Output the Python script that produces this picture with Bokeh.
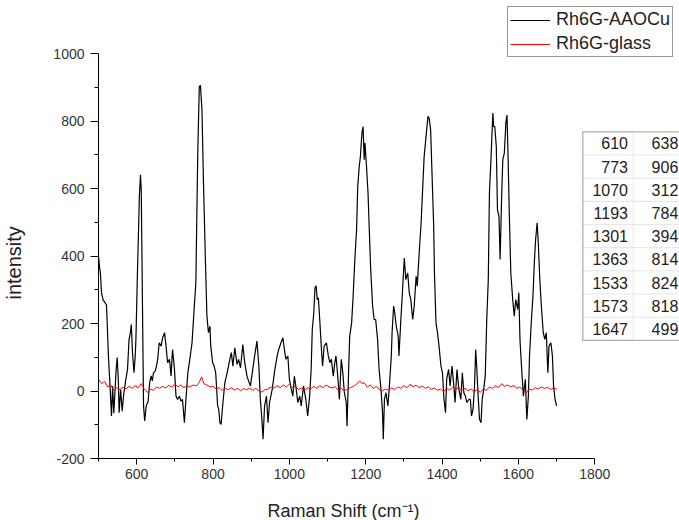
from bokeh.plotting import figure
from bokeh.models import (ColumnDataSource, FixedTicker, Legend, LegendItem,
                          BoxAnnotation, LabelSet, Range1d, Title)
from bokeh.core.properties import value
from bokeh.embed import file_html
from bokeh.resources import INLINE

# ---------------- data ----------------
raman_shift = [
    500, 503, 505, 508, 512, 517, 521, 526, 530, 534, 537, 540, 543, 546, 549, 552, 554, 558, 562, 566,
    571, 576, 580, 583, 586, 589, 593, 596, 598, 602, 605, 607, 610, 612, 615, 618, 621, 625, 630, 634,
    638, 641, 644, 649, 652, 655, 659, 664, 668, 673, 677, 681, 686, 690, 694, 699, 703, 707, 712, 716,
    720, 725, 729, 734, 738, 745, 751, 755, 760, 764, 767, 771, 775, 780, 784, 788, 792, 794, 799, 803,
    807, 812, 815, 818, 821, 826, 831, 837, 844, 848, 852, 857, 863, 867, 872, 878, 883, 889, 893, 898,
    904, 909, 915, 920, 924, 928, 931, 935, 940, 944, 948, 955, 962, 968, 972, 978, 983, 987, 991, 996,
    1000, 1005, 1009, 1013, 1018, 1022, 1027, 1031, 1037, 1043, 1048, 1053, 1057, 1060, 1064, 1067, 1070, 1073, 1076, 1080,
    1084, 1087, 1091, 1097, 1102, 1106, 1110, 1115, 1119, 1122, 1126, 1131, 1136, 1140, 1144, 1149, 1151, 1155, 1158, 1163,
    1167, 1171, 1176, 1179, 1183, 1186, 1190, 1193, 1196, 1198, 1202, 1206, 1209, 1213, 1218, 1222, 1226, 1231, 1235, 1240,
    1244, 1246, 1249, 1253, 1258, 1262, 1267, 1269, 1273, 1276, 1280, 1285, 1287, 1292, 1296, 1301, 1305, 1310, 1314, 1318,
    1323, 1327, 1332, 1335, 1340, 1345, 1349, 1353, 1358, 1363, 1366, 1370, 1373, 1378, 1380, 1384, 1388, 1392, 1397, 1401,
    1405, 1409, 1412, 1417, 1421, 1426, 1430, 1434, 1439, 1444, 1449, 1453, 1457, 1461, 1465, 1470, 1474, 1477, 1481, 1485,
    1488, 1491, 1495, 1498, 1502, 1505, 1509, 1513, 1517, 1521, 1524, 1528, 1533, 1535, 1538, 1542, 1545, 1549, 1552, 1556,
    1559, 1563, 1567, 1570, 1573, 1576, 1580, 1585, 1589, 1593, 1598, 1601, 1604, 1609, 1613, 1618, 1622, 1626, 1629, 1634,
    1638, 1642, 1645, 1649, 1652, 1656, 1660, 1665, 1669, 1673, 1677, 1680, 1685, 1689, 1692, 1696, 1700,
]
aaocu_intensity = [
    400, 365, 350, 290, 270, 262, 255, 104, 20, -74, 15, -66, -5, 60, 99, 30, -64, 5, -60, -10,
    30, 64, 153, 170, 197, 114, 54, 100, 153, 351, 480, 577, 641, 597, 271, -44, -89, -44, -30, 25,
    45, 30, 54, 60, 75, 94, 143, 133, 158, 173, 133, 84, 94, 45, 123, 64, -15, -25, -15, -30,
    -25, -94, -25, 54, 84, 143, 252, 321, 705, 902, 906, 834, 617, 390, 222, 173, 192, 133, 84, 74,
    54, -44, -54, -94, -99, -34, 25, 54, 94, 114, 74, 128, 79, 94, 69, 138, 84, 44, 30, 15,
    64, 104, 148, 74, -25, -84, -143, -44, -15, -94, -34, 5, 64, 104, 123, 143, 158, 123, 94, 104,
    35, 5, -15, 44, 5, -34, -15, -44, 15, -25, -74, -15, 64, 183, 232, 306, 312, 271, 276, 202,
    123, 74, 133, 143, 104, 84, 94, 44, 84, 104, 54, -25, 94, 54, -5, -34, -104, 54, 163, 202,
    281, 380, 478, 606, 666, 695, 765, 784, 686, 735, 666, 587, 488, 360, 252, 212, 212, 153, 64, 5,
    -64, -143, -25, -5, -44, 15, 104, 173, 252, 232, 192, 163, 104, 212, 291, 394, 330, 350, 291, 271,
    212, 252, 340, 311, 409, 498, 597, 695, 755, 814, 809, 774, 666, 488, 350, 202, 173, 133, 74, 54,
    -25, -64, 35, 64, 15, 74, 25, -34, 64, 5, -25, 54, -5, -15, -34, -25, -25, -74, -54, 15,
    123, 64, -25, -84, -94, -25, 5, 44, 212, 330, 587, 686, 824, 784, 784, 725, 538, 518, 390, 577,
    686, 705, 794, 818, 686, 528, 350, 271, 222, 271, 242, 291, 153, 54, -15, 35, -84, -15, 104, 212,
    281, 390, 449, 499, 439, 330, 252, 173, 153, 173, 54, 133, 143, 104, 15, -25, -44,
]

glass_shift = [
    500, 508, 516, 524, 532, 540, 548, 556, 564, 572, 580, 588, 596, 604, 612, 620, 628, 636, 644, 652,
    660, 668, 676, 684, 692, 700, 708, 716, 724, 732, 740, 748, 756, 764, 770, 776, 784, 792, 800, 808,
    816, 824, 832, 840, 848, 856, 864, 872, 880, 888, 896, 904, 912, 920, 928, 936, 944, 952, 960, 968,
    976, 984, 992, 1000, 1008, 1016, 1024, 1032, 1040, 1048, 1056, 1064, 1072, 1080, 1088, 1096, 1104, 1112, 1120, 1128,
    1136, 1144, 1152, 1160, 1168, 1176, 1184, 1190, 1196, 1204, 1212, 1220, 1228, 1236, 1244, 1252, 1260, 1268, 1276, 1284,
    1292, 1300, 1308, 1316, 1324, 1332, 1340, 1348, 1356, 1364, 1372, 1380, 1388, 1396, 1404, 1412, 1420, 1428, 1436, 1444,
    1452, 1460, 1468, 1476, 1484, 1492, 1500, 1508, 1516, 1524, 1532, 1540, 1548, 1556, 1564, 1572, 1580, 1588, 1596, 1604,
    1612, 1620, 1628, 1636, 1644, 1652, 1660, 1668, 1676, 1684, 1692, 1700,
]
glass_intensity = [
    35, 22, 28, 12, 18, 2, 10, 4, 12, 6, 14, 8, 16, 10, 22, 6, -4, 6, 2, 12,
    8, 14, 9, 17, 12, 20, 13, 18, 10, 16, 12, 18, 15, 26, 42, 22, 18, 12, 14, 6,
    10, 2, 8, 4, 10, 3, 8, 1, 7, 4, 9, 2, 8, 0, -3, 4, 6, 12, 9, 16,
    10, 18, 12, 20, 10, 14, 4, 9, 3, 10, 6, 14, 8, 16, 10, 18, 12, 9, 13, 2,
    8, 0, 6, 10, 14, 20, 30, 22, 25, 12, 18, 8, 14, 4, 1, 6, 2, 9, 4, 12,
    8, 16, 10, 20, 13, 17, 10, 15, 8, 12, 5, 9, 2, 6, -2, 8, 3, 12, 6, 10,
    2, 8, 1, 6, -2, 4, -4, 6, 2, 12, 8, 16, 10, 22, 14, 18, 12, 16, 8, 12,
    2, -6, 6, 3, 10, 6, 12, 8, 11, 5, 9, 6,
]

peak_shift = [610, 773, 1070, 1193, 1301, 1363, 1533, 1573, 1647]
peak_intensity = [638, 906, 312, 784, 394, 814, 824, 818, 499]

x_major = [600, 800, 1000, 1200, 1400, 1600, 1800]
x_minor = [500, 700, 900, 1100, 1300, 1500, 1700]
y_major = [-200, 0, 200, 400, 600, 800, 1000]
y_minor = [-100, 100, 300, 500, 700, 900]

series_names = ["Rh6G-AAOCu", "Rh6G-glass"]
x_title = "Raman Shift (cm\u207b\u00b9)"
y_title = "intensity"

# ---------------- layout ----------------
FONT = "Liberation Sans"
W, H = 679, 520
ML, MR, MT, MB = 98, 0, 0, 61          # frame: x 98..679, y 0..459
FW, FH = W - ML - MR, H - MT - MB
X_PER_PX = 1300.0 / 496.3               # axis 500..1800 spans 496 px
Y_PER_PX = 1200.0 / 405.7               # axis -200..1000 spans 406 px
X0, Y0 = 500.0, -200.0
X1 = X0 + FW * X_PER_PX
Y1 = Y0 + FH * Y_PER_PX


def px2x(px):
    return X0 + (px - ML) * X_PER_PX


def py2y(py):
    return Y0 + (MT + FH - py) * Y_PER_PX


p = figure(width=W, height=H, output_backend="svg", toolbar_location=None,
           x_range=Range1d(X0, X1), y_range=Range1d(Y0, Y1),
           min_border_left=ML, min_border_right=MR,
           min_border_top=MT, min_border_bottom=MB)
p.outline_line_color = None
p.grid.visible = False
p.background_fill_color = "white"
p.border_fill_color = "white"

r1 = p.line(raman_shift, aaocu_intensity, line_color="black", line_width=1.2)
r2 = p.line(glass_shift, glass_intensity, line_color="#ff0000", line_width=1)

for ax in (p.xaxis[0], p.yaxis[0]):
    ax.axis_line_color = "black"
    ax.axis_line_width = 1
    ax.major_tick_line_color = "black"
    ax.minor_tick_line_color = "black"
    ax.major_tick_in = 0
    ax.minor_tick_in = 0
    ax.major_label_text_font = FONT
    ax.major_label_text_font_size = "14px"
    ax.major_label_text_color = "#333333"
    # a blank, tiny axis label only reserves the gap before the title below
    ax.axis_label = "\u00a0"
    ax.axis_label_text_font_size = "2px"
    ax.axis_label_text_color = "white"

p.xaxis.bounds = (500, 1800)
p.xaxis.ticker = FixedTicker(ticks=x_major, minor_ticks=x_minor)
p.xaxis.major_label_overrides = {v: str(v) for v in x_major}
p.xaxis.major_tick_out = 6
p.xaxis.minor_tick_out = 3
p.xaxis.major_label_standoff = 4
p.xaxis.axis_label_standoff = 12

p.yaxis.bounds = (-200, 1000)
p.yaxis.ticker = FixedTicker(ticks=y_major, minor_ticks=y_minor)
p.yaxis.major_label_overrides = {v: str(v) for v in y_major}
p.yaxis.major_tick_out = 8
p.yaxis.minor_tick_out = 4
p.yaxis.major_label_standoff = 6
p.yaxis.axis_label_standoff = 21

# axis titles, placed along the axis spans (not the wider frame)
p.add_layout(Title(text=x_title, align="left", offset=169,
                   text_font=FONT, text_font_size="18px",
                   text_font_style="normal", text_color="#222222",
                   standoff=0), "below")
p.add_layout(Title(text=y_title, align="left", offset=159,
                   text_font=FONT, text_font_size="20px",
                   text_font_style="normal", text_color="#222222",
                   standoff=0), "left")

# ---------------- legend ----------------
legend = Legend(items=[LegendItem(label=series_names[0], renderers=[r1]),
                       LegendItem(label=series_names[1], renderers=[r2])],
                location=(507 - ML, MT + FH - 58.3),
                label_text_font=FONT, label_text_font_size="18px",
                label_text_color="#222222",
                glyph_width=40, glyph_height=20, label_height=20,
                label_standoff=6, spacing=3, padding=2, margin=0,
                border_line_color="#333333", border_line_width=1,
                background_fill_color="white", background_fill_alpha=1.0)
p.add_layout(legend)

# ---------------- peak table ----------------
T_LEFT, T_MID, T_RIGHT = 582.3, 632.7, 720
T_TOP, ROW_H = 131.7, 23.22
n = len(peak_shift)
for i in range(n):
    top = T_TOP + i * ROW_H
    p.add_layout(BoxAnnotation(left=px2x(T_LEFT), right=px2x(T_RIGHT),
                               top=py2y(top), bottom=py2y(top + ROW_H),
                               fill_color="white", fill_alpha=1.0,
                               line_color="#c0c0c0", line_width=1))
p.add_layout(BoxAnnotation(left=px2x(T_LEFT), right=px2x(T_MID),
                           top=py2y(T_TOP), bottom=py2y(T_TOP + n * ROW_H),
                           fill_alpha=0, line_color="#c0c0c0", line_width=1))
p.add_layout(BoxAnnotation(left=px2x(T_LEFT), right=px2x(T_RIGHT),
                           top=py2y(T_TOP), bottom=py2y(T_TOP + n * ROW_H),
                           fill_alpha=0, line_color="#333333", line_width=1.2))

row_y = [py2y(T_TOP + (i + 0.5) * ROW_H) for i in range(n)]
tsrc = ColumnDataSource(dict(
    x1=[px2x(627.5)] * n, x2=[px2x(677.8)] * n, y=row_y,
    t1=[str(v) for v in peak_shift], t2=[str(v) for v in peak_intensity]))
for xcol, tcol in (("x1", "t1"), ("x2", "t2")):
    p.add_layout(LabelSet(x=xcol, y="y", text=tcol, source=tsrc,
                          text_align="right", text_baseline="middle",
                          text_font=value(FONT), text_font_size=value("16px"),
                          text_color=value("#222222")))

open("out.html", "w").write(file_html(p, INLINE))
